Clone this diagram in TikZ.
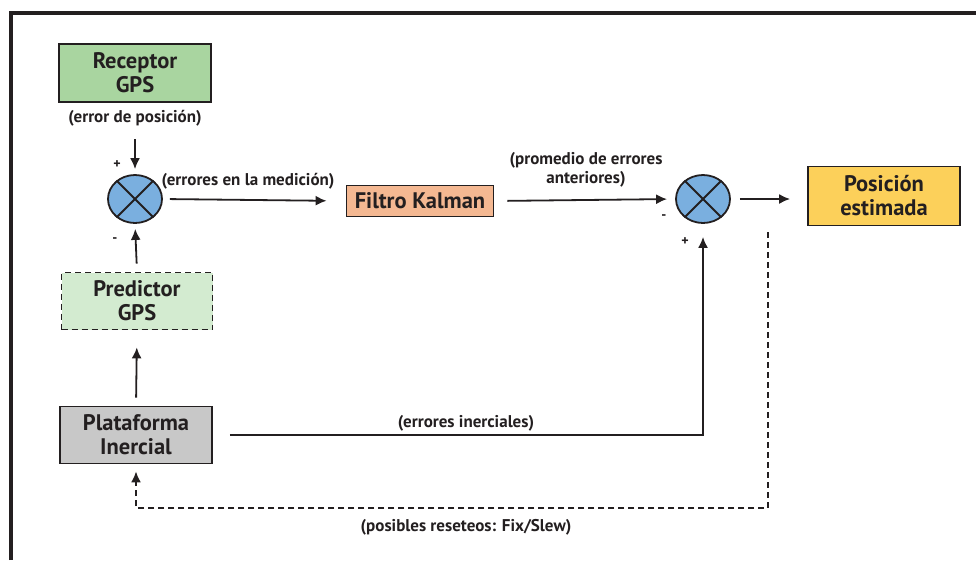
\documentclass[tikz,border=0pt]{standalone}
\usepackage{fontspec}
\setmainfont{PT Sans}
\usetikzlibrary{shapes.geometric, arrows.meta}

\definecolor{lineink}{HTML}{231F20}
\definecolor{gpsgreen}{HTML}{A9D5A0}
\definecolor{predgreen}{HTML}{D3EBD0}
\definecolor{inergray}{HTML}{C8C8C8}
\definecolor{kalsalmon}{HTML}{F4B892}
\definecolor{posgold}{HTML}{FCD05A}
\definecolor{sumblue}{HTML}{7AAFDF}

\begin{document}
\begin{tikzpicture}[
    x=1pt, y=-1pt,
    >={Latex[length=11pt,width=10pt]},
    line width=1.8pt,
    box/.style={
        draw=lineink, rectangle, align=center, line width=1.8pt,
        font=\fontsize{22.5}{24}\selectfont\bfseries, text=lineink
    },
    gpsbox/.style={box, fill=gpsgreen, minimum width=152pt, minimum height=58pt},
    predbox/.style={box, fill=predgreen, dash pattern=on 6pt off 4pt, minimum width=151pt, minimum height=57pt},
    inerbox/.style={box, fill=inergray, minimum width=152pt, minimum height=57pt},
    kalbox/.style={box, fill=kalsalmon, minimum width=147pt, minimum height=31pt},
    posbox/.style={box, fill=posgold, minimum width=152pt, minimum height=59pt},
    sumnode/.style={
        draw=lineink, fill=sumblue, ellipse, line width=1.8pt,
        minimum width=54pt, minimum height=48pt, inner sep=0pt
    },
    lbl/.style={font=\fontsize{17}{19}\selectfont\bfseries, text=lineink, align=center},
    sgn/.style={font=\fontsize{14}{16}\selectfont\bfseries, text=lineink, inner sep=0pt}
]
\useasboundingbox (0,0) rectangle (976,560);

% frame
\draw[line width=4pt, lineink] (11,560) -- (11,13) -- (976,13);

\node[gpsbox] (receptor) at (135,73) {Receptor\\GPS};
\node[lbl] (errpos) at (135,118) {(error de posición)};

\node[sumnode] (sum1) at (135,199) {};
\draw[lineink] (sum1.45) -- (sum1.225) (sum1.135) -- (sum1.315);
\node[sgn] (plus1) at (117,165) {+};
\node[sgn] (minus1) at (115,240) {-};

\node[predbox] (predictor) at (137,301) {Predictor\\GPS};
\node[inerbox] (plataforma) at (136,435) {Plataforma\\Inercial};

\node[kalbox] (kalman) at (420,201) {Filtro Kalman};

\node[sumnode] (sum2) at (703,199) {};
\draw[lineink] (sum2.45) -- (sum2.225) (sum2.135) -- (sum2.315);
\node[sgn] (minus2) at (664,217) {-};
\node[sgn] (plus2) at (685,242) {+};

\node[posbox] (posicion) at (884,196) {Posición\\estimada};

\node[lbl] (errmed) at (248,181) {(errores en la medición)};
\node[lbl] (promedio) at (586,170) {(promedio de errores\\anteriores)};
\node[lbl] (errinerc) at (466,423) {(errores inerciales)};
\node[lbl] (reseteo) at (466,527) {(posibles reseteos: Fix/Slew)};

\coordinate (resetpt) at (768,232);
\coordinate (resetcorner) at (768,508);

\draw[->, lineink, shorten <=9pt, shorten >=5pt] (errpos.south) -- (sum1.north);
\draw[->, lineink, shorten <=8pt, shorten >=5pt] (predictor.north) -- (sum1.south);
\draw[->, lineink, shorten <=8pt, shorten >=17pt] (plataforma.north) -- (predictor.south);
\draw[->, lineink, shorten <=7pt, shorten >=19pt] (sum1.east) -- (kalman.west);
\draw[->, lineink, shorten <=13pt, shorten >=8pt] (kalman.east) -- (sum2.west);
\draw[->, lineink, shorten <=9pt, shorten >=17pt] (sum2.east) -- (sum2.east -| posicion.west);
\draw[->, lineink, shorten <=17pt, shorten >=13pt] (plataforma.east) -| (sum2.south);
\draw[->, lineink, dash pattern=on 6pt off 4pt, shorten >=7pt] (resetpt) -- (resetcorner) -| (plataforma.south);
\end{tikzpicture}
\end{document}
